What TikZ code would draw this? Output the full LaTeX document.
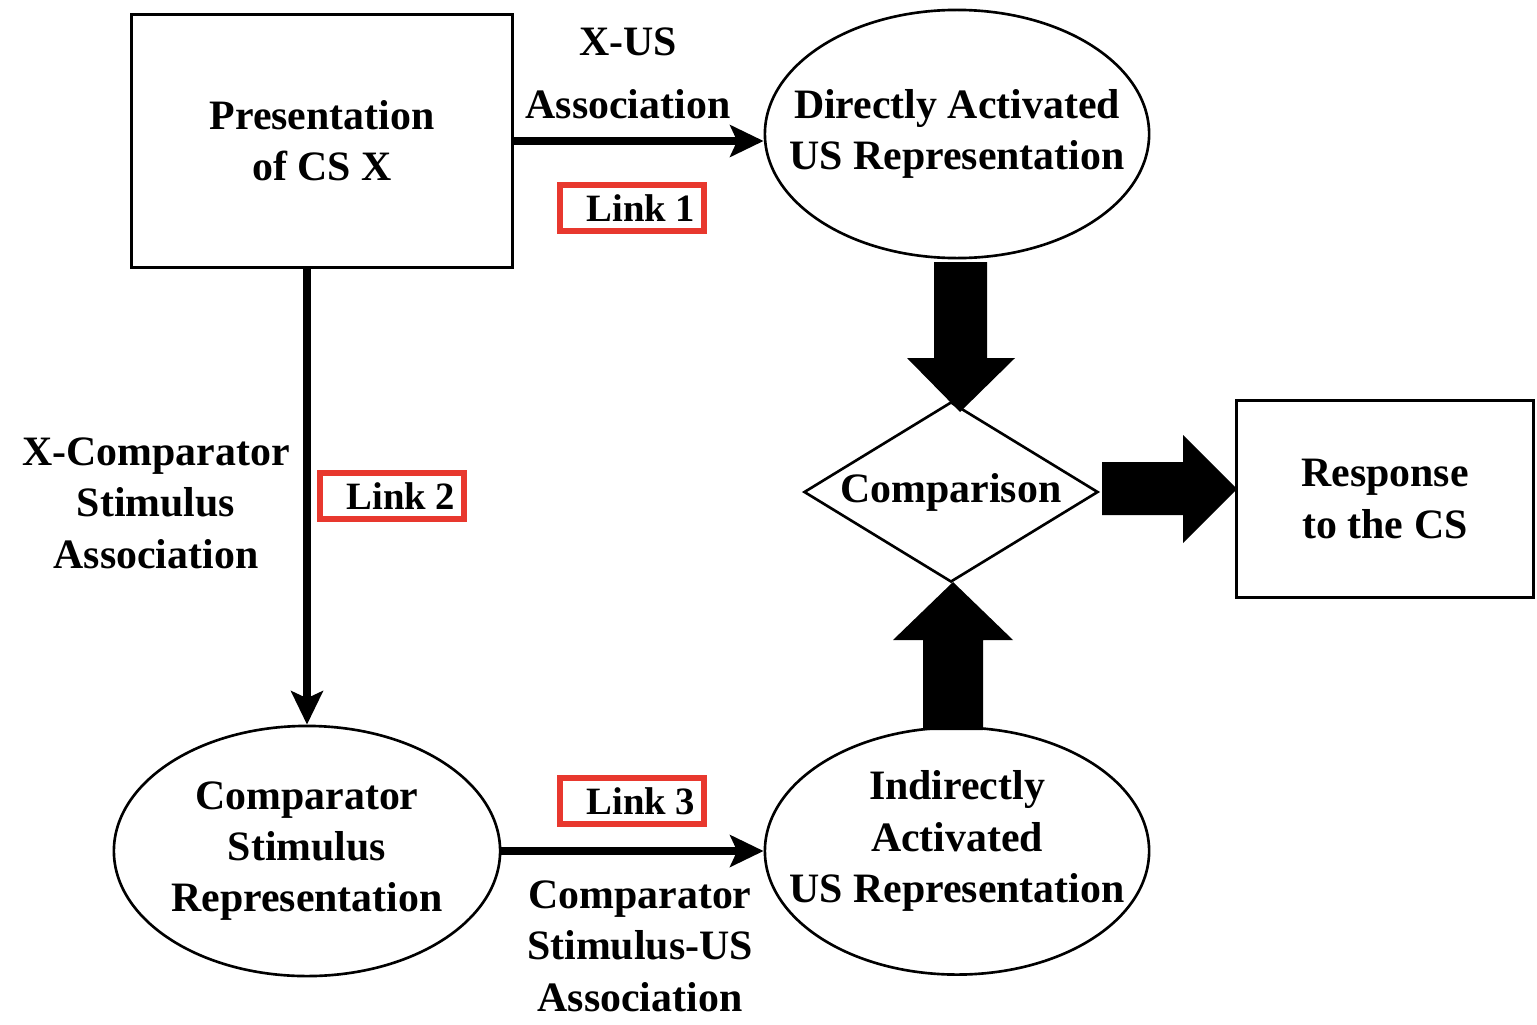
\documentclass[tikz,border=0pt]{standalone}
\usepackage{fontspec}
\setmainfont{Liberation Serif}
\usetikzlibrary{arrows.meta,shapes.geometric}
\definecolor{linkred}{RGB}{232,56,46}
\begin{document}
\begin{tikzpicture}[x=0.01cm,y=-0.01cm,
  every node/.style={font=\fontsize{11.9}{14.6}\selectfont\bfseries, align=center},
  boxnode/.style={draw, line width=0.85pt, rectangle, inner sep=0pt},
  ellnode/.style={draw, line width=0.75pt, ellipse, inner sep=0pt, minimum width=3.84cm, minimum height=2.48cm},
  dianode/.style={draw, line width=0.75pt, diamond, inner sep=0pt, aspect=1.63, minimum width=2.94cm, minimum height=1.80cm},
  linkbox/.style={draw=linkred, line width=1.6pt, rectangle, inner sep=0pt, minimum width=1.44cm, minimum height=0.46cm, font=\fontsize{11}{13}\selectfont\bfseries},
  thinarrow/.style={line width=2.3pt, -{Stealth[length=9.5pt,width=9pt,inset=2pt]}},
  blockarrow/.style={fill=black}
]
\useasboundingbox (0,0) rectangle (1537,1024);

% nodes
\node[boxnode, minimum width=3.80cm, minimum height=2.52cm] (pres) at (322,141) {Presentation\\of CS X};
\node[ellnode, label={center:Directly Activated\\US Representation}] (dir) at (957,134) {};
\node[ellnode, minimum width=3.86cm, minimum height=2.50cm, label={center:Comparator\\Stimulus\\Representation}] (cmp) at (307,851) {};
\node[ellnode, minimum width=3.84cm, minimum height=2.47cm, label={[yshift=0.1cm]center:Indirectly\\Activated\\US Representation}] (ind) at (957,851) {};
\node[dianode] (comp) at (951,492) {Comparison};
\node[boxnode, minimum width=2.96cm, minimum height=1.97cm] (resp) at (1385,499) {Response\\to the CS};

% labels
\node (lxus) at (628,73) {X-US\\[3.4pt]Association};
\node (lxcmp) at (156,503) {X-Comparator\\Stimulus\\Association};
\node (lcmpus) at (640,946) {Comparator\\Stimulus-US\\Association};

% link boxes
\node[linkbox] (link1) at (632,208) {\hspace{5pt}Link 1};
\node[linkbox] (link2) at (392,496) {\hspace{5pt}Link 2};
\node[linkbox] (link3) at (632,801) {\hspace{5pt}Link 3};

% thin connectors
\draw[thinarrow] (pres.east) -- (pres.east -| dir.west);
\draw[thinarrow] (pres.south -| cmp.north) -- (cmp.north);
\draw[thinarrow] (cmp.east) -- (ind.west);

% block arrows
\fill[blockarrow] (934,262) -- (987,262) -- (987,358) -- (1015,358) -- (960,412) -- (907,358) -- (934,358) -- cycle;
\fill[blockarrow] (923,730) -- (983,730) -- (983,640) -- (1013,640) -- (953,582) -- (893,640) -- (923,640) -- cycle;
\fill[blockarrow] (1102,462) -- (1183,462) -- (1183,435) -- (1237,489) -- (1183,543) -- (1183,515) -- (1102,515) -- cycle;
\end{tikzpicture}
\end{document}
